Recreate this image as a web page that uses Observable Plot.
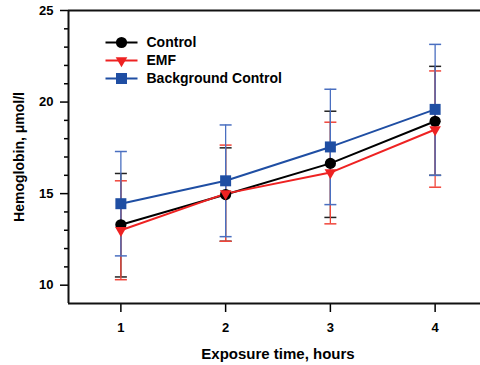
<!DOCTYPE html>
<html>
<head>
<meta charset="utf-8">
<script src="https://cdn.jsdelivr.net/npm/d3@7"></script>
<script src="https://cdn.jsdelivr.net/npm/@observablehq/plot@0.6"></script>
<style>
  html, body { margin: 0; padding: 0; background: #fff; overflow: hidden; }
  #chart { width: 480px; height: 365px; overflow: hidden; }
  #chart svg { max-width: none !important; }
</style>
</head>
<body>
<div id="chart"></div>
<script>
// ---- data ----
const hours = [1, 2, 3, 4];
const seriesNames = ["Control", "EMF", "Background Control"];
const controlMean = [13.3, 14.95, 16.65, 18.95];
const controlHi   = [16.1, 17.5, 19.5, 21.95];
const controlLo   = [10.45, 12.4, 13.7, 16.0];
const emfMean = [13.0, 15.0, 16.15, 18.5];
const emfHi   = [15.7, 17.65, 18.9, 21.7];
const emfLo   = [10.3, 12.4, 13.35, 15.35];
const bgMean = [14.45, 15.7, 17.55, 19.6];
const bgHi   = [17.3, 18.75, 20.7, 23.15];
const bgLo   = [11.6, 12.65, 14.4, 16.0];
const yMajorTicks = [10, 15, 20, 25];
const yMinorTicks = [11, 12, 13, 14, 16, 17, 18, 19, 21, 22, 23, 24];
const xTicks = [1, 2, 3, 4];

// ---- styles ----
const colors = {"Control": "#000000", "EMF": "#ee2222", "Background Control": "#1f4ea3"};
const barColors = {"Control": "#222222", "EMF": "#f0453a", "Background Control": "#4a6fc0"};
const symbols = {"Control": "circle", "EMF": "triangle", "Background Control": "square"};
const radii = {"Control": 5.6, "EMF": 4.3, "Background Control": 6.2};
const rotates = {"Control": 0, "EMF": 180, "Background Control": 0};

const means = [controlMean, emfMean, bgMean];
const his = [controlHi, emfHi, bgHi];
const los = [controlLo, emfLo, bgLo];
const rows = [];
seriesNames.forEach((s, i) => hours.forEach((h, j) => rows.push({
  series: s, hour: h, mean: means[i][j], hi: his[i][j], lo: los[i][j]
})));
const bySeries = s => rows.filter(r => r.series === s);

const capSymbol = {draw(ctx) { ctx.moveTo(-6, 0); ctx.lineTo(6, 0); }};
const legendLine = {draw(ctx) { ctx.moveTo(-16, 0); ctx.lineTo(16, 0); }};

const marks = [];
// error bars
for (const s of seriesNames) {
  const d = bySeries(s);
  marks.push(Plot.ruleX(d, {x: "hour", y1: "lo", y2: "hi", stroke: barColors[s], strokeWidth: 1.3}));
  marks.push(Plot.dot(d, {x: "hour", y: "hi", symbol: capSymbol, stroke: barColors[s], fill: "none", strokeWidth: 1.5}));
  marks.push(Plot.dot(d, {x: "hour", y: "lo", symbol: capSymbol, stroke: barColors[s], fill: "none", strokeWidth: 1.5}));
}
// lines
for (const s of seriesNames) {
  marks.push(Plot.line(bySeries(s), {x: "hour", y: "mean", stroke: colors[s], strokeWidth: 2}));
}
// markers
for (const s of seriesNames) {
  marks.push(Plot.dot(bySeries(s), {x: "hour", y: "mean", symbol: symbols[s], r: radii[s], rotate: rotates[s], fill: colors[s], stroke: "none"}));
}
// legend
seriesNames.forEach((s, i) => {
  const dy = 32 + i * 18;
  marks.push(Plot.dot([s], {frameAnchor: "top-left", dx: 53, dy, symbol: legendLine, stroke: colors[s], fill: "none", strokeWidth: 2}));
  marks.push(Plot.dot([s], {frameAnchor: "top-left", dx: 53, dy, symbol: symbols[s], r: radii[s], rotate: rotates[s], fill: colors[s], stroke: "none"}));
  marks.push(Plot.text([s], {frameAnchor: "top-left", dx: 78, dy, text: d => d, textAnchor: "start", lineAnchor: "middle", fontSize: 14, fontWeight: "bold", fill: "#000"}));
});
// axes
marks.push(Plot.axisY({ticks: yMinorTicks, tickSize: 4, tickFormat: () => "", label: null, strokeWidth: 1.5}));
marks.push(Plot.axisY({ticks: yMajorTicks, tickSize: 8, tickPadding: 7, tickFormat: d => d, label: null, strokeWidth: 1.5}));
marks.push(Plot.axisX({ticks: xTicks, tickSize: 9, tickPadding: 10, tickFormat: d => d, label: null, strokeWidth: 1.5}));
marks.push(Plot.ruleX([0.5], {stroke: "#111", strokeWidth: 2}));
marks.push(Plot.ruleY([9], {stroke: "#111", strokeWidth: 2}));
marks.push(Plot.ruleY([25], {stroke: "#111", strokeWidth: 2}));
// titles
marks.push(Plot.text(["Exposure time, hours"], {frameAnchor: "bottom", dy: 50.5, text: d => d, fontSize: 15, fontWeight: "bold", textAnchor: "middle", lineAnchor: "middle", fill: "#000"}));
marks.push(Plot.text(["Hemoglobin, \u03bcmol/l"], {frameAnchor: "left", dx: -49, rotate: -90, text: d => d, fontSize: 14, fontWeight: "bold", textAnchor: "middle", lineAnchor: "middle", fill: "#000"}));

const chart = Plot.plot({
  width: 487,
  height: 365,
  marginLeft: 68,
  marginRight: 0,
  marginTop: 10,
  marginBottom: 62,
  x: {domain: [0.5, 4.5]},
  y: {domain: [9, 25]},
  style: {fontFamily: "'Liberation Sans', Arial, sans-serif", fontSize: "13px", fontWeight: "bold", color: "#000", background: "#fff", overflow: "visible", maxWidth: "none"},
  marks
});
document.getElementById("chart").appendChild(chart);
</script>
</body>
</html>
